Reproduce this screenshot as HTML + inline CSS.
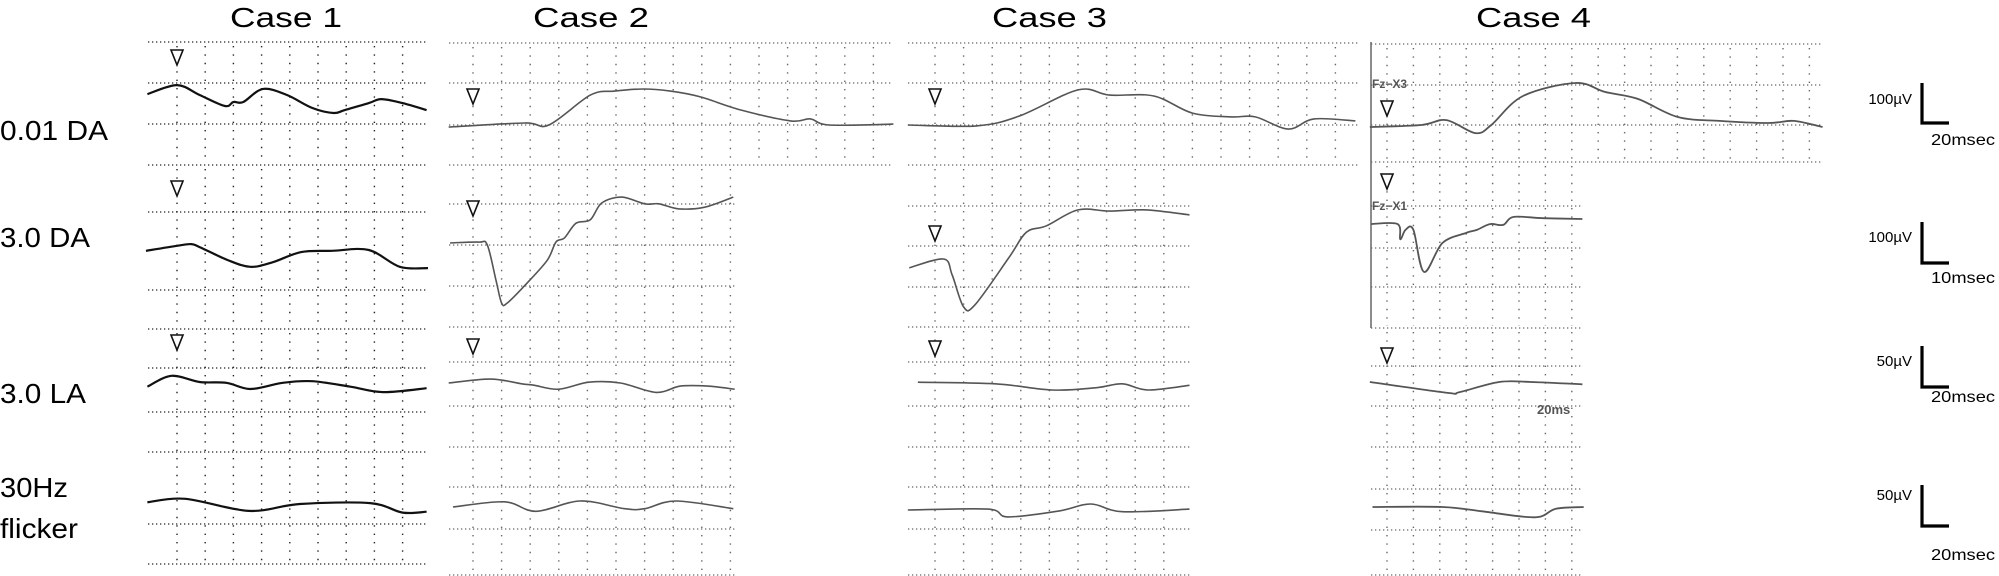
<!DOCTYPE html>
<html><head><meta charset="utf-8"><style>
html,body{margin:0;padding:0;background:#fff;}
svg{display:block;font-family:"Liberation Sans",sans-serif;}
</style></head><body>
<svg id="fig" width="1999" height="576" viewBox="0 0 1999 576" xmlns="http://www.w3.org/2000/svg">
<g id="titles">
<text x="230" y="27" font-size="28" textLength="112" lengthAdjust="spacingAndGlyphs">Case 1</text>
<text x="533" y="27" font-size="28" textLength="116" lengthAdjust="spacingAndGlyphs">Case 2</text>
<text x="992" y="27" font-size="28" textLength="115" lengthAdjust="spacingAndGlyphs">Case 3</text>
<text x="1476" y="27" font-size="28" textLength="115" lengthAdjust="spacingAndGlyphs">Case 4</text>
</g>
<g id="rowlabels">
<text x="0" y="140" font-size="28" textLength="108" lengthAdjust="spacingAndGlyphs">0.01 DA</text>
<text x="0" y="247" font-size="28" textLength="90" lengthAdjust="spacingAndGlyphs">3.0 DA</text>
<text x="0" y="403" font-size="28" textLength="86" lengthAdjust="spacingAndGlyphs">3.0 LA</text>
<text x="0" y="497" font-size="28" textLength="68" lengthAdjust="spacingAndGlyphs">30Hz</text>
<text x="0" y="538" font-size="28" textLength="78" lengthAdjust="spacingAndGlyphs">flicker</text>
</g>
<g id="grids"></g>
<g id="traces"></g>
<g id="markers"></g>
<g id="annot" fill="#555" font-weight="bold">
<text x="1372" y="88" font-size="12">Fz−X3</text>
<text x="1372" y="210" font-size="12">Fz−X1</text>
<text x="1537" y="414" font-size="13">20ms</text>
</g>
<g id="scalebars" font-size="15"></g>
</svg>
<script>
// ---- data: time (ms) & amplitude (µV) per trace ----
const c1_r1_t=[-21,0,16,34,40,47,61,78,96,111,119,136,145,160,177];
const c1_r1_v=[103,134,100,62,76,76,121,100,55,38,48,72,86,72,48];
const c1_r2_t=[-11,0,5,8,18,26,34,44,55,68,79,89];
const c1_r2_v=[-2,10,14,7,-24,-40,-29,-5,-2,0,-40,-43];
const c1_r3_t=[-21,-4,16,35,52,75,96,123,146,177];
const c1_r3_v=[-6,8,0,-1,-9,-1,1,-6,-13,-8];
const c1_r4_t=[-21,6,51,87,137,160,177];
const c1_r4_v=[2,6,-8,0,1,-10,-9];

const c2_r1_t=[-17,36,53,82,99,119,138,159,187,222,236,249,294];
const c2_r1_v=[-7,7,0,103,117,124,117,97,52,14,21,0,3];
const c2_r2_t=[-8,2,5,8,10,12,19,26,29,32,36,41,45,52,60,65,72,81,91];
const c2_r2_v=[5,7,0,-83,-138,-138,-90,-36,7,17,52,60,100,114,98,98,86,90,114];
const c2_r3_t=[-17,12,34,43,60,81,103,128,145,164,183];
const c2_r3_v=[0,5,-1,-3,-8,1,0,-12,-4,-4,-8];
const c2_r4_t=[-14,22,44,75,106,120,142,182];
const c2_r4_v=[0,6,-5,7,-2,-2,7,-2];

const c3_r1_t=[-19,29,59,100,122,153,180,207,224,247,265,294];
const c3_r1_v=[0,-3,31,121,103,100,41,28,28,-14,21,14];
const c3_r2_t=[-9,3,6,10,14,26,32,39,50,61,74,89];
const c3_r2_v=[-52,-31,-69,-145,-140,-26,33,48,86,83,86,74];
const c3_r3_t=[-12,42,82,113,131,149,178];
const c3_r3_v=[1,-1,-9,-6,-1,-9,-3];
const c3_r4_t=[-19,37,51,87,109,131,178];
const c3_r4_v=[0,1,-8,-1,7,-2,1];

const c4_r1_t=[-13,26,45,67,79,103,143,165,190,220,252,289,308,330];
const c4_r1_v=[-7,0,17,-28,0,100,145,114,90,28,14,7,14,-7];
const c4_r2_t=[-6,4,5,7,10,14,21,30,34,39,44,48,59,74];
const c4_r2_v=[57,57,21,43,43,-57,12,36,43,57,55,74,71,69];
const c4_r3_t=[-13,46,55,85,109,148];
const c4_r3_v=[0,-14,-13,0,0,-3];
const c4_r4_t=[-11,42,72,112,128,149];
const c4_r4_v=[0,0,-5,-12,-2,0];

const scaleLabels=["100µV","100µV","50µV","50µV"];
const timeLabels=["20msec","10msec","20msec","20msec"];

// ---- layout ----
const NS="http://www.w3.org/2000/svg";
function mk(tag,attrs,parent){const e=document.createElementNS(NS,tag);for(const k in attrs)e.setAttribute(k,attrs[k]);parent.appendChild(e);return e;}
const rowScale=[0.29,0.42,0.78,0.86]; // px per µV
const rowMsDiv=[20,10,20,20];
const cases=[
 {x0:177,sp:28.2,col:"#111",w:2.2,
  rows:[{x1:148,x2:428,y1:42,y2:165,h:[42,83,124,165],yb:124,mk:57},
        {x1:148,x2:428,y1:165,y2:329,h:[212,290,329],yb:250,mk:188},
        {x1:148,x2:428,y1:329,y2:412,h:[368,412],yb:382,mk:342},
        {x1:148,x2:428,y1:412,y2:564,h:[452,524,564],yb:504,mk:null}]},
 {x0:473,sp:28.6,col:"#555",w:1.6,
  rows:[{x1:449,x2:893,y1:43,y2:165,h:[43,83,125,165],yb:125,mk:96},
        {x1:449,x2:736,y1:165,y2:327,h:[204,245,286,327],yb:245,mk:208},
        {x1:449,x2:736,y1:327,y2:447,h:[362,406,447],yb:383,mk:346},
        {x1:449,x2:736,y1:447,y2:575,h:[487,529,575],yb:507,mk:null}]},
 {x0:935,sp:28.6,col:"#555",w:1.6,
  rows:[{x1:908,x2:1358,y1:43,y2:165,h:[43,83,125,165],yb:125,mk:96},
        {x1:908,x2:1190,y1:165,y2:327,h:[206,246,287,327],yb:246,mk:233},
        {x1:908,x2:1190,y1:327,y2:447,h:[362,406,447],yb:383,mk:348},
        {x1:908,x2:1190,y1:447,y2:575,h:[487,529,575],yb:510,mk:null}]},
 {x0:1387,sp:26.4,col:"#555",w:1.8,
  rows:[{x1:1371,x2:1823,y1:44,y2:162,h:[44,85,125,162],yb:125,mk:108},
        {x1:1371,x2:1582,y1:162,y2:328,h:[206,248,287,328],yb:248,mk:181},
        {x1:1371,x2:1582,y1:328,y2:447,h:[366,406,447],yb:382,mk:355},
        {x1:1371,x2:1582,y1:447,y2:575,h:[489,530,575],yb:507,mk:null}]}
];
const traceT=[[c1_r1_t,c1_r2_t,c1_r3_t,c1_r4_t],[c2_r1_t,c2_r2_t,c2_r3_t,c2_r4_t],[c3_r1_t,c3_r2_t,c3_r3_t,c3_r4_t],[c4_r1_t,c4_r2_t,c4_r3_t,c4_r4_t]];
const traceV=[[c1_r1_v,c1_r2_v,c1_r3_v,c1_r4_v],[c2_r1_v,c2_r2_v,c2_r3_v,c2_r4_v],[c3_r1_v,c3_r2_v,c3_r3_v,c3_r4_v],[c4_r1_v,c4_r2_v,c4_r3_v,c4_r4_v]];

function smoothPath(pts){
  let d="M"+pts[0][0]+","+pts[0][1];
  for(let i=0;i<pts.length-1;i++){
    const p0=pts[i-1]||pts[i],p1=pts[i],p2=pts[i+1],p3=pts[i+2]||p2;
    const k=1/6;
    const c1x=p1[0]+(p2[0]-p0[0])*k,c1y=p1[1]+(p2[1]-p0[1])*k;
    const c2x=p2[0]-(p3[0]-p1[0])*k,c2y=p2[1]-(p3[1]-p1[1])*k;
    d+=" C"+c1x.toFixed(1)+","+c1y.toFixed(1)+" "+c2x.toFixed(1)+","+c2y.toFixed(1)+" "+p2[0].toFixed(1)+","+p2[1].toFixed(1);
  }
  return d;
}

const G=document.getElementById('grids'),T=document.getElementById('traces'),M=document.getElementById('markers'),S=document.getElementById('scalebars');
cases.forEach((c,ci)=>{
  c.rows.forEach((r,ri)=>{
    const g=mk('g',{},G);
    
    
    const gc=ci==0?"#222":"#666";
    r.h.forEach(y=>{const l=mk('line',{x1:r.x1,x2:r.x2,y1:y,y2:y,stroke:gc,'stroke-width':1.3,'stroke-dasharray':'1.3 2.7'},g);
      });
    for(let x=c.x0;x<=r.x2+1;x+=c.sp){const l=mk('line',{x1:x,x2:x,y1:r.y1+4,y2:r.y2-2,stroke:gc,'stroke-width':1.4,'stroke-dasharray':'1.4 7'},g);
      }
    const xs=t=>c.x0+t*(c.sp/rowMsDiv[ri]);
    const ys=v=>r.yb-v*rowScale[ri];
    const tt=traceT[ci][ri],vv=traceV[ci][ri];
    const pts=tt.map((t,i)=>[xs(t),ys(vv[i])]);
    const p=mk('path',{d:smoothPath(pts),fill:'none',stroke:c.col,'stroke-width':c.w,'stroke-linejoin':'round'},T);
    
    
    if(r.mk!==null){const x=c.x0,y=r.mk;
      const m=mk('polygon',{points:(x-6)+","+(y-7)+" "+(x+6)+","+(y-7)+" "+x+","+(y+8),fill:'#fff',stroke:'#111','stroke-width':1.6},M);
      }
  });
});
const lb=mk('line',{x1:1371,x2:1371,y1:42,y2:328,stroke:'#666','stroke-width':1.5},G);

const bars=[[83,123,104,145],[222,263,242,283],[346,387,366,402],[485,526,500,560]];
bars.forEach((b,i)=>{
  const g=mk('g',{},S);
  
  
  mk('path',{d:"M1922,"+b[0]+" L1922,"+b[1]+" L1949,"+b[1],fill:'none',stroke:'#000','stroke-width':3.2},g);
  const a=mk('text',{x:1912,y:b[2],'text-anchor':'end','font-size':15},g);a.textContent=scaleLabels[i];
  
  const t=mk('text',{x:1931,y:b[3],'font-size':16,textLength:64,lengthAdjust:'spacingAndGlyphs'},g);t.textContent=timeLabels[i];
  
});
</script>
</body></html>
